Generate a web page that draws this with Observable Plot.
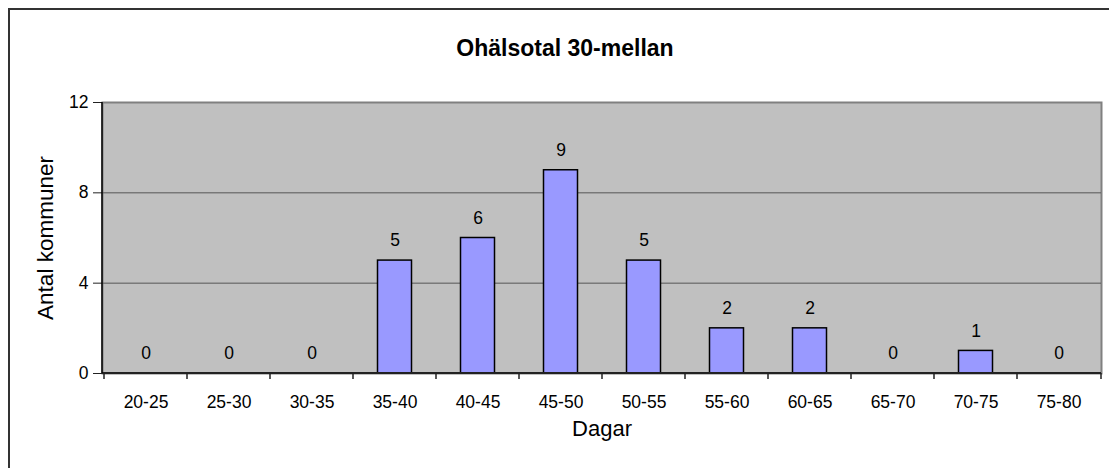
<!DOCTYPE html>
<html>
<head>
<meta charset="utf-8">
<script src="https://cdn.jsdelivr.net/npm/d3@7"></script>
<script src="https://cdn.jsdelivr.net/npm/@observablehq/plot@0.6"></script>
<style>
  html, body { margin: 0; padding: 0; background: #fff; }
  #wrap { position: relative; width: 1109px; height: 468px; overflow: hidden; background: #fff; }
  #border { position: absolute; left: 8px; top: 8px; width: 1120px; height: 480px; border: 2px solid #333; box-sizing: border-box; }
  #chart { position: absolute; left: 0; top: 0; }
</style>
</head>
<body>
<div id="wrap"><div id="border"></div><div id="chart"></div></div>
<script>
const categories = ["20-25","25-30","30-35","35-40","40-45","45-50","50-55","55-60","60-65","65-70","70-75","75-80"];
const counts = [0, 0, 0, 5, 6, 9, 5, 2, 2, 0, 1, 0];
const yTicks = [0, 4, 8, 12];
const gridValues = [4, 8];
const title = "Ohälsotal 30-mellan";
const xLabel = "Dagar";
const yLabel = "Antal kommuner";

const data = categories.map((c, i) => ({cat: c, n: counts[i]}));

const axisLines = (index, scales, values, dim) => {
  const g = d3.create("svg:g");
  const x = scales.x, y = scales.y;
  const left = dim.marginLeft, right = dim.width - dim.marginRight;
  const bottom = y(0), top = y(12);
  g.append("line").attr("x1", left).attr("x2", right).attr("y1", bottom).attr("y2", bottom)
    .attr("stroke", "#222").attr("stroke-width", 2);
  g.append("line").attr("x1", left).attr("x2", left).attr("y1", top).attr("y2", bottom)
    .attr("stroke", "#000").attr("stroke-width", 1.5);
  const bounds = categories.map(c => x(c)).concat([right]);
  for (const b of bounds) {
    g.append("line").attr("x1", b).attr("x2", b).attr("y1", bottom).attr("y2", bottom + 6)
      .attr("stroke", "#222").attr("stroke-width", 1.5);
  }
  return g.node();
};

const chart = Plot.plot({
  width: 1109,
  height: 468,
  marginLeft: 102,
  marginTop: 102,
  marginRight: 8,
  marginBottom: 95,
  style: {fontFamily: "'Liberation Sans', Arial, sans-serif", background: "transparent", color: "#000"},
  x: {domain: categories, padding: 0, axis: null, label: null},
  y: {domain: [0, 12], axis: null, label: null},
  marks: [
    Plot.frame({fill: "#C0C0C0", stroke: "#808080", strokeWidth: 2}),
    Plot.ruleY(gridValues, {stroke: "#555", strokeWidth: 1}),
    Plot.barY(data, {x: "cat", y: "n", fill: "#9999FF", stroke: "#000", strokeWidth: 1.5, insetLeft: 24.5, insetRight: 24.5}),
    Plot.text(data, {x: "cat", y: "n", text: d => String(d.n), dy: -20, fontSize: 17.5, fill: "#000"}),
    Plot.axisY({ticks: yTicks, tickSize: 9, tickPadding: 5, fontSize: 17.5, label: null, stroke: "#222"}),
    Plot.axisX({tickSize: 0, tickPadding: 22, fontSize: 17.5, label: null}),
    axisLines,
    Plot.text([title], {frameAnchor: "top", dx: -37, dy: -63, fontWeight: "bold", fontSize: 23, fill: "#000"}),
    Plot.text([xLabel], {frameAnchor: "bottom", dy: 62, fontSize: 22, fill: "#000"}),
    Plot.text([yLabel], {frameAnchor: "left", textAnchor: "middle", dx: -57, rotate: -90, fontSize: 22.5, fill: "#000"})
  ]
});
document.getElementById("chart").appendChild(chart);
</script>
</body>
</html>
